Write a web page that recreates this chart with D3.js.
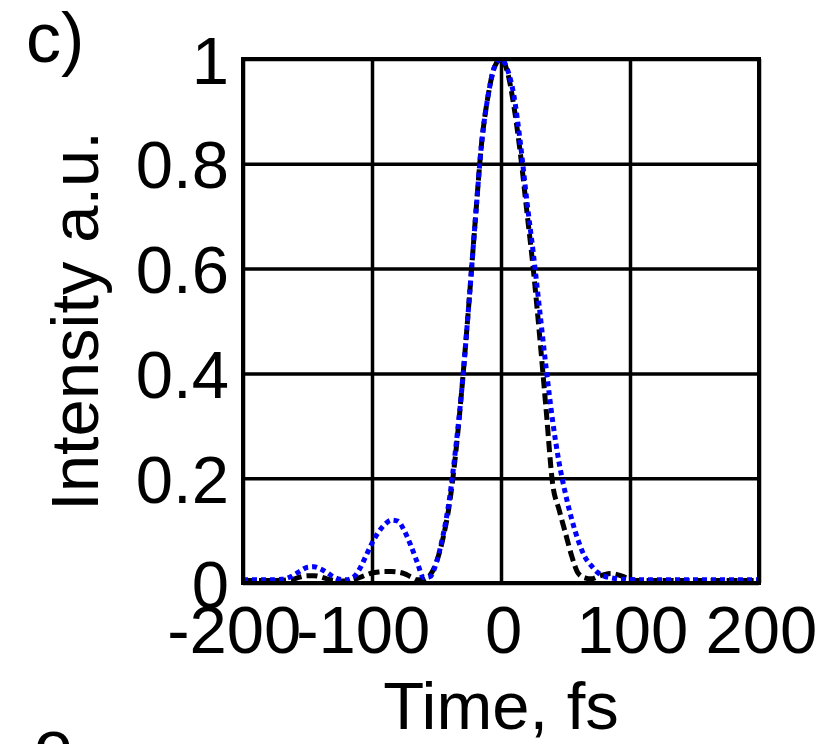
<!DOCTYPE html>
<html lang="en">
<head>
<meta charset="UTF-8">
<title>Intensity vs time</title>
<script src="https://d3js.org/d3.v7.min.js"></script>
<style>
  body { margin: 0; background: #fff; }
  svg text { font-family: "Liberation Sans", Arial, Helvetica, sans-serif; fill: #000; }
</style>
</head>
<body>
<div id="chart"></div>
<script>
// time samples (fs) and the two traces
const times = [-200, -190, -180, -170, -165, -160, -155, -150, -145, -140,
  -135, -130, -125, -120, -115, -110, -105, -100, -95, -90,
  -85, -80, -75, -70, -65, -60, -55, -50, -45, -40,
  -35, -30, -25, -20, -15, -10, -5, 0, 5, 10,
  15, 20, 25, 30, 35, 40, 45, 50, 55, 60,
  65, 70, 75, 80, 85, 90, 95, 100, 105, 110,
  120, 130, 140, 150, 160, 170, 180, 190, 200];

// black dashed trace
const dashedTrace = [0.005, 0.005, 0.005, 0.005, 0.006, 0.008, 0.012, 0.014, 0.014, 0.012,
  0.008, 0.005, 0.004, 0.004, 0.006, 0.010, 0.015, 0.019, 0.021, 0.022,
  0.022, 0.021, 0.018, 0.012, 0.006, 0.006, 0.015, 0.040, 0.085, 0.150,
  0.250, 0.380, 0.530, 0.690, 0.840, 0.930, 0.985, 1.000, 0.975, 0.910,
  0.820, 0.710, 0.600, 0.470, 0.330, 0.190, 0.140, 0.095, 0.050, 0.018,
  0.010, 0.008, 0.012, 0.016, 0.018, 0.016, 0.012, 0.007, 0.005, 0.005,
  0.005, 0.005, 0.005, 0.005, 0.005, 0.005, 0.005, 0.005, 0.005];

// blue dotted trace
const dottedTrace = [0.006, 0.006, 0.006, 0.007, 0.010, 0.016, 0.024, 0.030, 0.031, 0.027,
  0.020, 0.012, 0.007, 0.006, 0.010, 0.025, 0.050, 0.076, 0.097, 0.112,
  0.120, 0.118, 0.100, 0.072, 0.040, 0.010, 0.012, 0.040, 0.090, 0.160,
  0.260, 0.380, 0.530, 0.690, 0.840, 0.930, 0.985, 1.000, 0.980, 0.930,
  0.840, 0.730, 0.630, 0.520, 0.410, 0.310, 0.230, 0.170, 0.120, 0.080,
  0.050, 0.033, 0.020, 0.013, 0.010, 0.008, 0.007, 0.006, 0.006, 0.006,
  0.006, 0.006, 0.006, 0.006, 0.006, 0.006, 0.006, 0.006, 0.006];

const xTicks = [-200, -100, 0, 100, 200];
const yTicks = [0, 0.2, 0.4, 0.6, 0.8, 1];

const W = 827, H = 744;
const margin = {top: 59, right: 68, bottom: 161, left: 243};
const width = W - margin.left - margin.right,
      height = H - margin.top - margin.bottom;
const fontSize = 67;

const svg = d3.select("#chart").append("svg")
    .attr("width", W)
    .attr("height", H);

const g = svg.append("g")
    .attr("transform", `translate(${margin.left},${margin.top})`);

const x = d3.scaleLinear().domain([-200, 200]).range([0, width]);
const y = d3.scaleLinear().domain([0, 1]).range([height, 0]);

// grid lines
const xGrid = g.append("g")
    .attr("transform", `translate(0,${height})`)
    .call(d3.axisBottom(x).tickValues(xTicks).tickSize(-height).tickFormat(""));
const yGrid = g.append("g")
    .call(d3.axisLeft(y).tickValues(yTicks).tickSize(-width).tickFormat(""));
[xGrid, yGrid].forEach(a => {
  a.select(".domain").remove();
  a.selectAll("line").attr("stroke", "#000").attr("stroke-width", 3.5);
});

// traces
g.append("clipPath").attr("id", "clip")
  .append("rect").attr("x", 0).attr("y", -5).attr("width", width).attr("height", height + 5);

const pts = (vals) => times.map((t, i) => [t, vals[i]]);
const line = d3.line()
    .x(d => x(d[0]))
    .y(d => y(d[1]))
    .curve(d3.curveMonotoneX);

g.append("path")
    .datum(pts(dashedTrace))
    .attr("clip-path", "url(#clip)")
    .attr("fill", "none")
    .attr("stroke", "#000")
    .attr("stroke-width", 5)
    .attr("stroke-dasharray", "11,5")
    .attr("d", line);

g.append("path")
    .datum(pts(dottedTrace))
    .attr("clip-path", "url(#clip)")
    .attr("fill", "none")
    .attr("stroke", "#0000ff")
    .attr("stroke-width", 5)
    .attr("stroke-dasharray", "5,4")
    .attr("d", line);

// frame
g.append("rect")
    .attr("width", width)
    .attr("height", height)
    .attr("fill", "none")
    .attr("stroke", "#000")
    .attr("stroke-width", 4);

// tick labels
const xAxis = g.append("g")
    .attr("transform", `translate(0,${height})`)
    .call(d3.axisBottom(x).tickValues(xTicks).tickSize(0).tickPadding(0).tickFormat(d => String(d)));
xAxis.select(".domain").remove();
// labels are centred on the digits, the minus sign hangs off to the left
xAxis.selectAll("text")
    .attr("font-size", fontSize)
    .attr("text-anchor", "end")
    .attr("dy", null)
    .attr("y", 70)
    .attr("x", d => String(Math.abs(d)).length * 0.556 * fontSize / 2 + 2);

const yAxis = g.append("g")
    .call(d3.axisLeft(y).tickValues(yTicks).tickSize(0).tickPadding(14).tickFormat(d => String(d)));
yAxis.select(".domain").remove();
yAxis.selectAll("text")
    .attr("font-size", fontSize)
    .attr("dy", "0.36em");

// axis titles
svg.append("text")
    .attr("x", margin.left + width / 2)
    .attr("y", 729)
    .attr("text-anchor", "middle")
    .attr("font-size", fontSize)
    .text("Time, fs");

svg.append("text")
    .attr("transform", `translate(98,${margin.top + height / 2}) rotate(-90)`)
    .attr("text-anchor", "middle")
    .attr("font-size", fontSize)
    .text("Intensity a.u.");

// panel letters (the second one is cut off by the bottom edge, as in the source)
svg.append("text")
    .attr("x", 26)
    .attr("y", 62)
    .attr("font-size", 70)
    .text("c)");

svg.append("text")
    .attr("x", 34)
    .attr("y", 769)
    .attr("font-size", 70)
    .text("e");
</script>
</body>
</html>
